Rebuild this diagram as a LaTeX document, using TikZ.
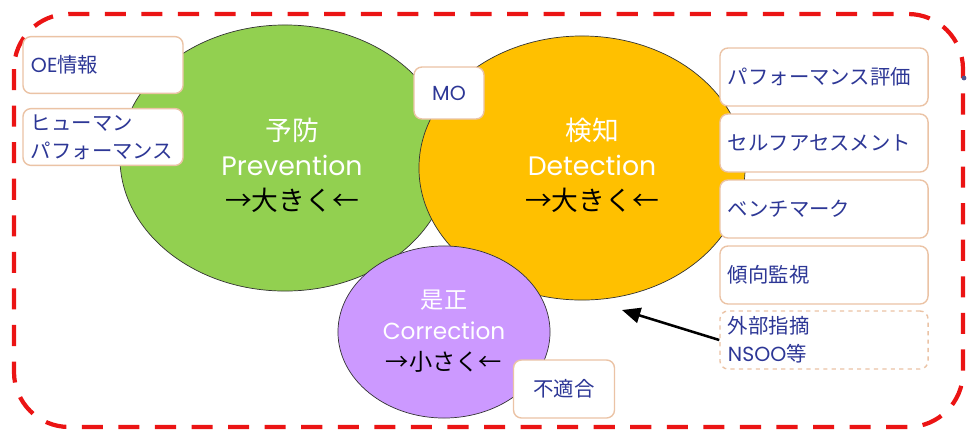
\documentclass[tikz,border=0pt]{standalone}
\usepackage{fontspec}
\setmainfont{Noto Sans CJK JP}
\newfontfamily\latinfont{Poppins}
\usetikzlibrary{shapes.geometric,arrows.meta}
\definecolor{prevgreen}{RGB}{146,208,80}
\definecolor{detorange}{RGB}{255,192,0}
\definecolor{corrpurple}{RGB}{204,153,255}
\definecolor{boxedge}{RGB}{235,195,165}
\definecolor{boxtext}{RGB}{45,55,150}
\definecolor{framered}{RGB}{235,20,20}
\tikzset{
  area/.style={ellipse, draw=black!80, line width=0.5pt, inner sep=0pt},
  arealabel/.style={align=center, inner sep=0pt},
  infobox/.style={draw=boxedge, line width=1pt, fill=white, rounded corners=0.2cm,
    text=boxtext, font=\fontsize{14.5}{20}\selectfont, inner xsep=5.7pt, inner ysep=0pt},
  leftbox/.style={infobox, text width=3.6cm, align=left, minimum height=1.42cm},
  sidebox/.style={infobox, text width=4.8cm, align=left, minimum height=1.45cm},
}
\begin{document}
\begin{tikzpicture}[x=0.025cm, y=-0.025cm]
  \useasboundingbox (0,0) rectangle (967,430);
  % outer frame
  \draw[framered, line width=3pt, dash pattern=on 15pt off 11pt, rounded corners=1.375cm]
    (14,14) rectangle (963,427);
  % the three areas
  \node[area, fill=prevgreen, minimum width=8.25cm, minimum height=6.65cm] (prev) at (285,158) {};
  \node[area, fill=detorange, minimum width=8.15cm, minimum height=6.6cm] (det) at (582,168) {};
  \node[area, fill=corrpurple, minimum width=5.3cm, minimum height=4.3cm] (corr) at (444,332) {};
  \node[arealabel, font=\fontsize{19}{25}\selectfont] (prevlabel) at (292,165)
    {\textcolor{white}{予防}\\\textcolor{white}{\latinfont Prevention}\\→大きく←};
  \node[arealabel, font=\fontsize{19}{25}\selectfont] (detlabel) at (592,165)
    {\textcolor{white}{検知}\\\textcolor{white}{\latinfont Detection}\\→大きく←};
  \node[arealabel, font=\fontsize{16.5}{22}\selectfont] (corrlabel) at (444,331)
    {\textcolor{white}{是正}\\\textcolor{white}{\latinfont Correction}\\→小さく←};
  % input boxes
  \node[leftbox] (oe) at (103,65) {{\latinfont OE}情報};
  \node[leftbox] (hp) at (103,137) {ヒューマン\\パフォーマンス};
  \node[infobox, minimum width=1.75cm, minimum height=1.3cm] (mo) at (449,93) {\latinfont MO};
  \node[sidebox] (perf) at (824,77) {パフォーマンス評価};
  \node[sidebox] (self) at (824,143) {セルフアセスメント};
  \node[sidebox] (bench) at (824,209) {ベンチマーク};
  \node[sidebox] (trend) at (824,275) {傾向監視};
  \node[sidebox, dashed] (ext) at (824,340) {外部指摘\\{\latinfont NSOO}等};
  \node[infobox, minimum width=2.525cm, minimum height=1.45cm] (nc) at (564,389) {不適合};
  % arrow into detection
  \coordinate (hit) at (622,310);
  \draw[-{Triangle[length=13pt,width=11pt]}, line width=1.8pt] (ext.west) -- (hit);
  \fill[boxtext!60!gray] (964,78) circle (0.06cm);
\end{tikzpicture}
\end{document}
